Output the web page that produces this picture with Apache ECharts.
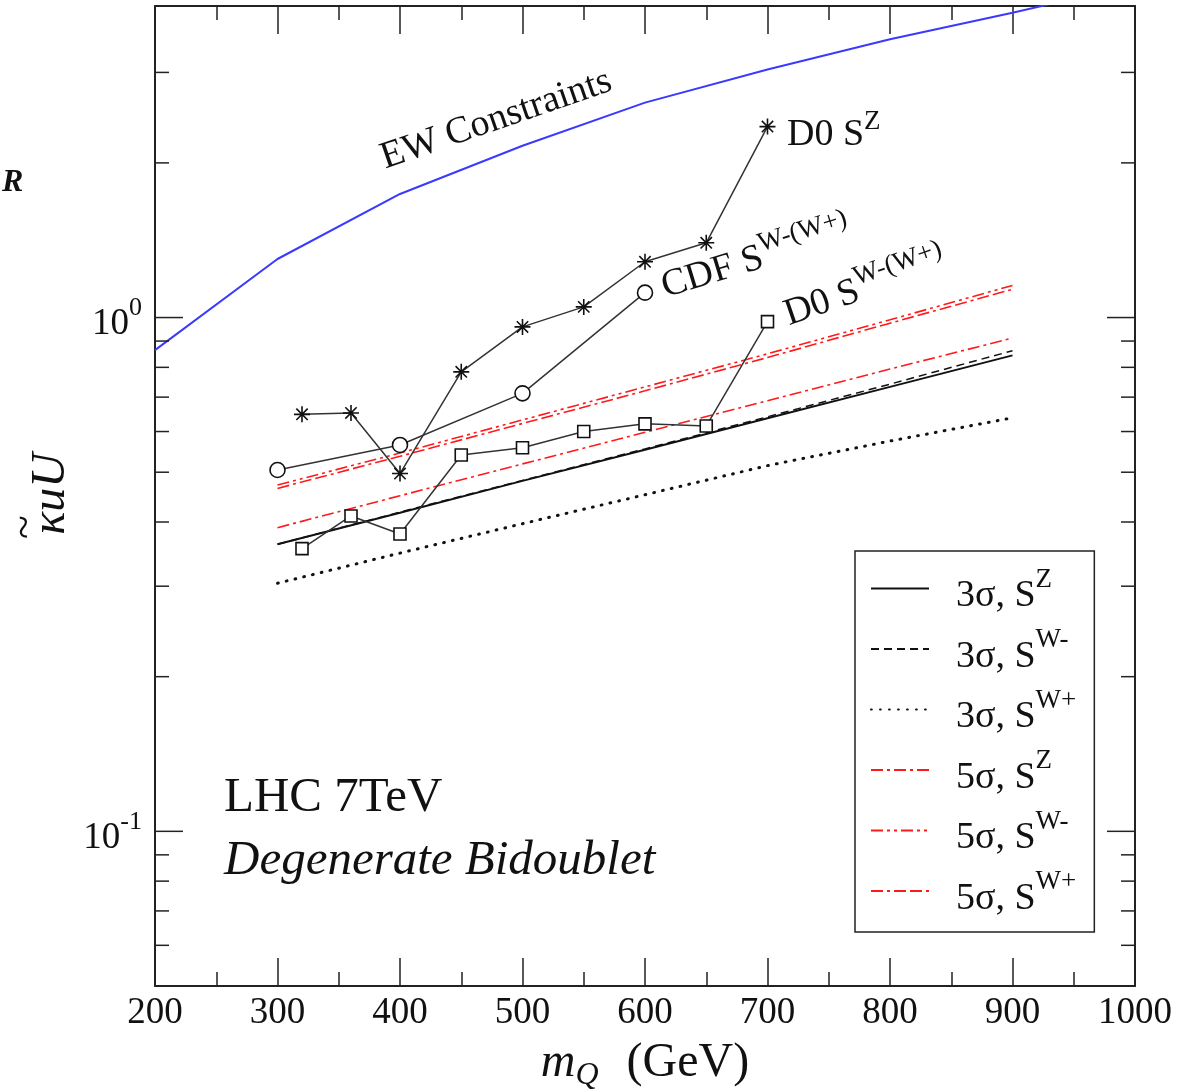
<!DOCTYPE html>
<html>
<head>
<meta charset="utf-8">
<script src="https://cdn.jsdelivr.net/npm/echarts@6/dist/echarts.min.js"></script>
<style>html,body{margin:0;padding:0;background:#fff}#c{width:1186px;height:1089px}</style>
</head>
<body>
<div id="c"></div>
<script>
// ---------------- data ----------------
const xMin = 200, xMax = 1000, xStep = 100;
const yMin = 0.05, yMax = 4.04;

const ewMass  = [200, 300, 400, 500, 600, 700, 800, 900, 930];
const ewKappa = [0.864, 1.30, 1.74, 2.16, 2.62, 3.04, 3.48, 3.92, 4.07];

const d0ZMass  = [320, 360, 400, 450, 500, 550, 600, 650, 700];
const d0ZKappa = [0.648, 0.652, 0.497, 0.784, 0.959, 1.049, 1.284, 1.398, 2.353];

const cdfMass  = [300, 400, 500, 600];
const cdfKappa = [0.505, 0.565, 0.712, 1.118];

const d0WMass  = [320, 360, 400, 450, 500, 550, 600, 650, 700];
const d0WKappa = [0.355, 0.411, 0.379, 0.540, 0.558, 0.600, 0.621, 0.615, 0.982];

const reachMass = [300, 400, 500, 600, 700, 800, 900];
const s3Z  = [0.362, 0.417, 0.481, 0.553, 0.637, 0.733, 0.844];
const s3Wm = [0.362, 0.418, 0.482, 0.555, 0.641, 0.742, 0.862];
const s3Wp = [0.304, 0.348, 0.397, 0.452, 0.515, 0.575, 0.638];
const s5Z  = [0.390, 0.450, 0.519, 0.598, 0.689, 0.794, 0.912];
const s5Wm = [0.472, 0.545, 0.632, 0.733, 0.850, 0.990, 1.155];
const s5Wp = [0.465, 0.537, 0.622, 0.720, 0.836, 0.975, 1.135];

const legendNames = ['3σ, S^Z', '3σ, S^W-', '3σ, S^W+', '5σ, S^Z', '5σ, S^W-', '5σ, S^W+'];

const yMajorTicks = [0.1, 1];
const yMinorTicks = [0.06, 0.07, 0.08, 0.09, 0.2, 0.3, 0.4, 0.5, 0.6, 0.7, 0.8, 0.9, 2, 3];

// ---------------- helpers ----------------
const FONT = "'Liberation Serif', 'Times New Roman', serif";
const INK = '#111';
const zip = (xs, ys) => xs.map((x, i) => [x, ys[i]]);

function theory(name, vals, color, width, type, cap) {
  return {
    name, type: 'line', data: zip(reachMass, vals), symbol: 'none', z: 3,
    lineStyle: { color, width, type, cap: cap || 'butt' },
    itemStyle: { color }, emphasis: { disabled: true }
  };
}
function expLine(name, xs, ys, symbol, size, fill) {
  return {
    name, type: 'line', data: zip(xs, ys), symbol, symbolSize: size, symbolKeepAspect: true,
    showAllSymbol: true, z: 4,
    lineStyle: { color: '#333', width: 1.5 },
    itemStyle: { color: fill, borderColor: '#111', borderWidth: 1.6 },
    emphasis: { disabled: true }
  };
}
const asterisk = 'path://M10,0L10,20M0,10L20,10M2.9,2.9L17.1,17.1M2.9,17.1L17.1,2.9';

const chart = echarts.init(document.getElementById('c'), null, { renderer: 'canvas' });

const supAnn = {
  b: { fontSize: 38, fontFamily: FONT, fill: INK, padding: [10, 0, 0, 0] },
  s: { fontSize: 27, fontFamily: FONT, fill: INK, padding: [0, 0, 16, 0] }
};

const option = {
  backgroundColor: '#fff',
  animation: false,
  grid: { left: 155, right: 51, top: 6, bottom: 103, containLabel: false, outerBoundsMode: 'none' },
  xAxis: [{
    type: 'value', min: xMin, max: xMax, interval: xStep, position: 'bottom',
    axisLine: { show: true, onZero: false, lineStyle: { color: '#222', width: 2 } },
    axisTick: { show: true, inside: true, length: 28, lineStyle: { color: '#222', width: 1.5 } },
    minorTick: { show: true, splitNumber: 2, length: 14, lineStyle: { color: '#222', width: 1.5 } },
    splitLine: { show: false }, minorSplitLine: { show: false },
    axisLabel: { show: true, fontSize: 37, fontFamily: FONT, color: INK, margin: 9,
      showMinLabel: true, showMaxLabel: true, formatter: v => String(v) },
    name: '{m|m}{q|Q}{g|(GeV)}', nameLocation: 'middle', nameGap: 48,
    nameTextStyle: {
      rich: {
        m: { fontSize: 48, fontFamily: FONT, fontStyle: 'italic', color: INK },
        q: { fontSize: 32, fontFamily: FONT, fontStyle: 'italic', color: INK, padding: [26, 0, 0, 0] },
        g: { fontSize: 48, fontFamily: FONT, color: INK, padding: [0, 0, 0, 28] }
      }
    }
  }, {
    type: 'value', min: xMin, max: xMax, interval: xStep, position: 'top',
    axisLine: { show: true, onZero: false, lineStyle: { color: '#222', width: 2 } },
    axisTick: { show: true, inside: true, length: 28, lineStyle: { color: '#222', width: 1.5 } },
    minorTick: { show: true, splitNumber: 2, length: 14, lineStyle: { color: '#222', width: 1.5 } },
    splitLine: { show: false }, axisLabel: { show: false }
  }],
  yAxis: [{
    type: 'log', logBase: 10, min: yMin, max: yMax, position: 'left',
    axisLine: { show: true, onZero: false, lineStyle: { color: '#222', width: 2 } },
    axisTick: { show: false }, splitLine: { show: false },
    axisLabel: {
      show: true, margin: 13, showMinLabel: true, showMaxLabel: true,
      formatter: function (v) {
        const e = Math.log10(v);
        if (Math.abs(e - Math.round(e)) > 1e-6) return '';
        return '{b|10}{s|' + Math.round(e) + '}';
      },
      rich: {
        b: { fontSize: 37, fontFamily: FONT, color: INK, padding: [14, 0, 0, 0] },
        s: { fontSize: 26, fontFamily: FONT, color: INK, padding: [0, 0, 18, 0] }
      }
    }
  }, {
    type: 'log', logBase: 10, min: yMin, max: yMax, position: 'right',
    axisLine: { show: true, onZero: false, lineStyle: { color: '#222', width: 2 } },
    axisTick: { show: false }, splitLine: { show: false }, axisLabel: { show: false }
  }],
  legend: {
    data: legendNames, orient: 'vertical', left: 855, top: 551,
    backgroundColor: '#fff', borderColor: '#222', borderWidth: 1.5,
    padding: [15, 18, 14, 15], itemGap: 11, itemWidth: 58, itemHeight: 14,
    selectedMode: false,
    itemStyle: { color: 'rgba(0,0,0,0)', borderColor: 'rgba(0,0,0,0)', borderWidth: 0 },
    formatter: function (n) { const p = n.split('^'); return '{b|' + p[0] + '}{s|' + p[1] + '}'; },
    textStyle: {
      rich: {
        b: { fontSize: 38, fontFamily: FONT, color: INK, padding: [16, 0, 0, 22] },
        s: { fontSize: 27, fontFamily: FONT, color: INK, padding: [0, 0, 18, 0] }
      }
    }
  },
  series: [
    {
      name: 'EW', type: 'line', data: zip(ewMass, ewKappa), symbol: 'none', z: 3, clip: true,
      lineStyle: { color: '#3a3aff', width: 2 }, emphasis: { disabled: true }
    },
    theory(legendNames[0], s3Z, '#111', 2, 'solid'),
    theory(legendNames[1], s3Wm, '#111', 1.5, [8, 5]),
    theory(legendNames[2], s3Wp, '#111', 3, [0.8, 8.2], 'round'),
    theory(legendNames[3], s5Z, '#ff1a1a', 1.6, [12, 4, 3, 4]),
    theory(legendNames[4], s5Wm, '#ff1a1a', 1.6, [12, 4, 3, 4, 3, 4]),
    theory(legendNames[5], s5Wp, '#ff1a1a', 1.6, [12, 4, 3, 4, 12, 4]),
    expLine('D0 SZ', d0ZMass, d0ZKappa, asterisk, 16, '#111'),
    expLine('CDF SW', cdfMass, cdfKappa, 'circle', 15, '#fff'),
    expLine('D0 SW', d0WMass, d0WKappa, 'rect', 12, '#fff'),
    {
      name: 'yticks', type: 'custom', silent: true, clip: false, z: 5,
      xAxisIndex: 0, yAxisIndex: 0,
      data: yMajorTicks.map(v => [xMin, v, 1]).concat(yMinorTicks.map(v => [xMin, v, 0])),
      renderItem: function (params, api) {
        const v = api.value(1), major = api.value(2);
        const l = api.coord([xMin, v]), r = api.coord([xMax, v]);
        const len = major ? 28 : 14;
        const st = { stroke: '#222', lineWidth: 1.5 };
        return {
          type: 'group', children: [
            { type: 'line', shape: { x1: l[0], y1: l[1], x2: l[0] + len, y2: l[1] }, style: st },
            { type: 'line', shape: { x1: r[0] - len, y1: r[1], x2: r[0], y2: r[1] }, style: st }
          ]
        };
      }
    }
  ],
  graphic: [
    { type: 'text', x: 382, y: 159, rotation: 19 * Math.PI / 180, z: 10,
      style: { text: 'EW Constraints', font: '38px ' + FONT, fill: INK, align: 'left', verticalAlign: 'middle' } },
    { type: 'text', x: 787, y: 130, z: 10,
      style: { text: '{b|D0 S}{s|Z}', rich: supAnn, align: 'left', verticalAlign: 'middle' } },
    { type: 'text', x: 661, y: 283, rotation: 17 * Math.PI / 180, z: 10,
      style: { text: '{b|CDF S}{s|W-(W+)}', rich: supAnn, align: 'left', verticalAlign: 'middle' } },
    { type: 'text', x: 784, y: 311, rotation: 19 * Math.PI / 180, z: 10,
      style: { text: '{b|D0 S}{s|W-(W+)}', rich: supAnn, align: 'left', verticalAlign: 'middle' } },
    { type: 'text', x: 224, y: 798, z: 10,
      style: { text: 'LHC 7TeV', font: '49px ' + FONT, fill: INK, align: 'left', verticalAlign: 'middle' } },
    { type: 'text', x: 224, y: 861, z: 10,
      style: { text: 'Degenerate Bidoublet', font: 'italic 49px ' + FONT, fill: INK, align: 'left', verticalAlign: 'middle' } },
    { type: 'text', x: 51, y: 494, rotation: Math.PI / 2, z: 10,
      style: { text: 'κuU', font: 'italic 48px ' + FONT, fill: INK, align: 'center', verticalAlign: 'middle' } },
    { type: 'text', x: 26, y: 527, rotation: Math.PI / 2, z: 10,
      style: { text: '~', font: '44px ' + FONT, fill: INK, align: 'center', verticalAlign: 'middle' } },
    { type: 'text', x: 2, y: 183, z: 10,
      style: { text: 'R', font: 'italic bold 32px ' + FONT, fill: INK, align: 'left', verticalAlign: 'middle' } }
  ]
};
chart.setOption(option);
</script>
</body>
</html>
